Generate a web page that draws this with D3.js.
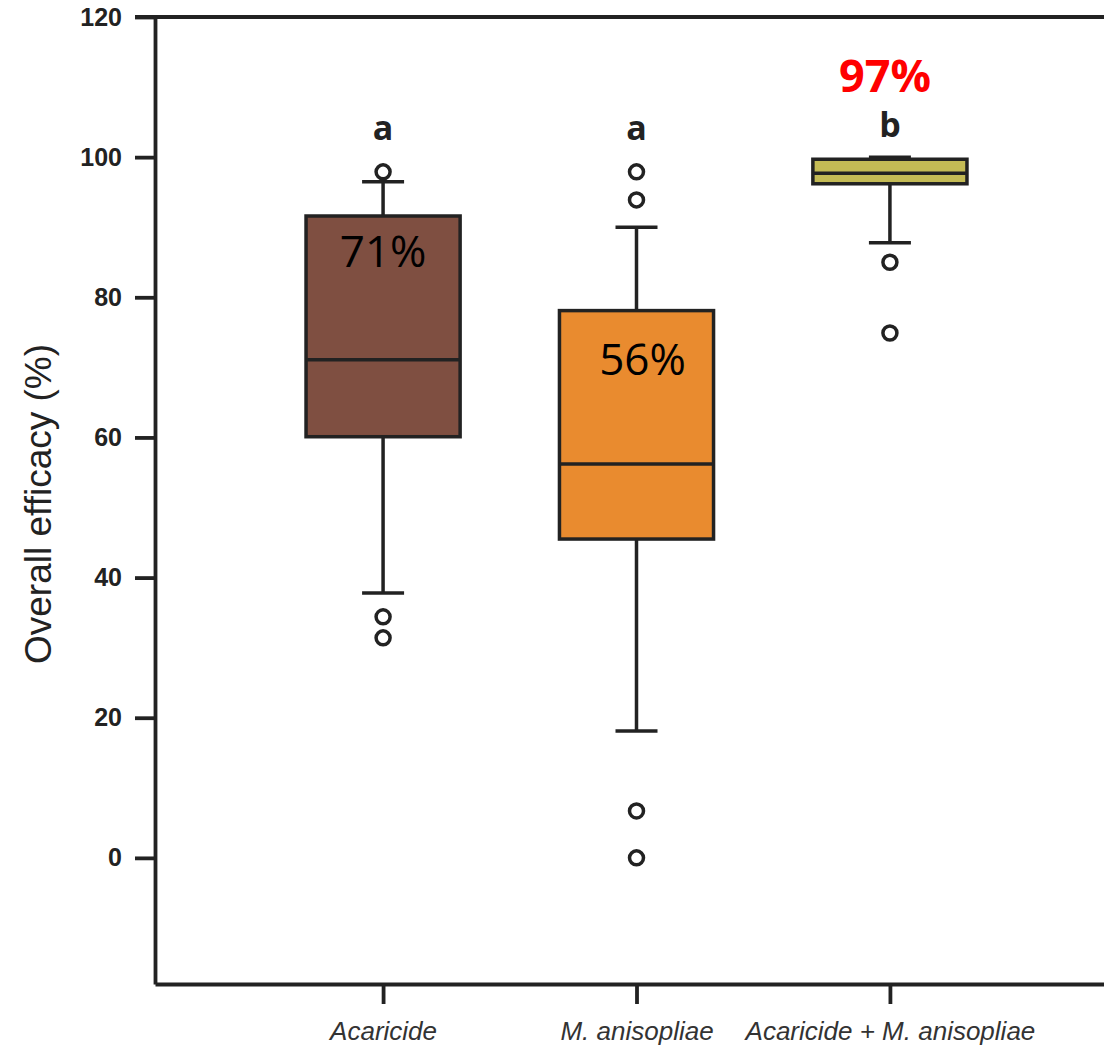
<!DOCTYPE html>
<html>
<head>
<meta charset="utf-8">
<script src="https://cdn.jsdelivr.net/npm/d3@7"></script>
<style>
  html, body { margin: 0; padding: 0; background: #ffffff; }
  svg { display: block; }
</style>
</head>
<body>
<div id="chart"></div>
<script>
// ---- data ----
const categories = ["Acaricide", "M. anisopliae", "Acaricide + M. anisopliae"];
const q1Values = [60.1, 45.5, 96.2];
const medianValues = [71.1, 56.2, 97.7];
const q3Values = [91.6, 78.1, 99.7];
const whiskerLow = [37.8, 18.1, 87.8];
const whiskerHigh = [96.5, 90.0, 100.0];
const outlierValues = [[97.9, 34.4, 31.4], [97.9, 93.9, 6.7, 0.0], [85.0, 74.9]];
const groupLetters = ["a", "a", "b"];
const medianLabels = ["71%", "56%", "97%"];
const yTicks = [0, 20, 40, 60, 80, 100, 120];
const boxColors = ["#7f4f41", "#e98b2f", "#c4bb55"];

// ---- layout ----
const W = 1104, H = 1048;
const ink = "#222222";

const svg = d3.select("#chart").append("svg")
  .attr("width", W).attr("height", H);

const y = d3.scaleLinear().domain([-18, 120]).range([984, 17]);
const x = d3.scalePoint().domain(categories).range([155, 1118]).padding(0.9);
const boxW = x.step() * 0.608;
const capW = 42;

// top frame line (extends the 120 tick)
svg.append("line")
  .attr("x1", 135).attr("x2", W + 20)
  .attr("y1", y(120)).attr("y2", y(120))
  .attr("stroke", ink).attr("stroke-width", 3.8);

// left axis
const yAxis = svg.append("g")
  .attr("transform", `translate(${x.range()[0]},0)`)
  .call(d3.axisLeft(y).tickValues(yTicks).tickSize(20).tickSizeOuter(0).tickPadding(13));
yAxis.select(".domain").attr("stroke", ink).attr("stroke-width", 3.8);
yAxis.selectAll(".tick line").attr("stroke", ink).attr("stroke-width", 3.8);
yAxis.selectAll(".tick text")
  .attr("fill", ink)
  .style("font-family", "'Liberation Sans', Arial, sans-serif")
  .style("font-weight", "bold")
  .style("font-size", "25px");

// bottom axis
const xAxis = svg.append("g")
  .attr("transform", `translate(0,${y(-18)})`)
  .call(d3.axisBottom(x).tickSize(20).tickSizeOuter(0).tickPadding(18));
xAxis.select(".domain").attr("stroke", ink).attr("stroke-width", 3.8);
xAxis.selectAll(".tick line").attr("stroke", ink).attr("stroke-width", 3.8);
xAxis.selectAll(".tick text")
  .attr("fill", "#333333")
  .style("font-family", "'Liberation Sans', Arial, sans-serif")
  .style("font-style", "italic")
  .style("font-size", "26px");

// y axis title
svg.append("text")
  .attr("transform", `translate(51,${504}) rotate(-90)`)
  .attr("text-anchor", "middle")
  .attr("fill", ink)
  .style("font-family", "'Liberation Sans', Arial, sans-serif")
  .style("font-size", "37px")
  .text("Overall efficacy (%)");

// ---- boxes ----
const groups = svg.append("g").selectAll("g")
  .data(categories)
  .join("g")
  .attr("transform", d => `translate(${x(d)},0)`);

// whiskers (vertical)
groups.append("line")
  .attr("x1", 0).attr("x2", 0)
  .attr("y1", (d, i) => y(whiskerHigh[i]))
  .attr("y2", (d, i) => y(q3Values[i]))
  .attr("stroke", ink).attr("stroke-width", 3.5);
groups.append("line")
  .attr("x1", 0).attr("x2", 0)
  .attr("y1", (d, i) => y(q1Values[i]))
  .attr("y2", (d, i) => y(whiskerLow[i]))
  .attr("stroke", ink).attr("stroke-width", 3.5);

// caps
groups.append("line")
  .attr("x1", -capW / 2).attr("x2", capW / 2)
  .attr("y1", (d, i) => y(whiskerHigh[i]))
  .attr("y2", (d, i) => y(whiskerHigh[i]))
  .attr("stroke", ink).attr("stroke-width", 3.5);
groups.append("line")
  .attr("x1", -capW / 2).attr("x2", capW / 2)
  .attr("y1", (d, i) => y(whiskerLow[i]))
  .attr("y2", (d, i) => y(whiskerLow[i]))
  .attr("stroke", ink).attr("stroke-width", 3.5);

// box
groups.append("rect")
  .attr("x", -boxW / 2)
  .attr("width", boxW)
  .attr("y", (d, i) => y(q3Values[i]))
  .attr("height", (d, i) => y(q1Values[i]) - y(q3Values[i]))
  .attr("fill", (d, i) => boxColors[i])
  .attr("stroke", ink).attr("stroke-width", 3.5);

// median
groups.append("line")
  .attr("x1", -boxW / 2).attr("x2", boxW / 2)
  .attr("y1", (d, i) => y(medianValues[i]))
  .attr("y2", (d, i) => y(medianValues[i]))
  .attr("stroke", ink).attr("stroke-width", 3.5);

// outliers
groups.each(function (d, i) {
  d3.select(this).selectAll("circle")
    .data(outlierValues[i])
    .join("circle")
    .attr("cx", 0)
    .attr("cy", v => y(v))
    .attr("r", 7)
    .attr("fill", "#ffffff")
    .attr("stroke", ink)
    .attr("stroke-width", 3.5);
});

// group letters
groups.append("text")
  .attr("x", 0)
  .attr("y", (d, i) => i === 2 ? y(102.9) : y(102.5))
  .attr("text-anchor", "middle")
  .attr("fill", ink)
  .style("font-family", "'Open Sans', sans-serif")
  .style("font-weight", "bold")
  .style("font-size", "34px")
  .text((d, i) => groupLetters[i]);

// median percentage labels
groups.append("text")
  .attr("x", (d, i) => i === 1 ? 6 : (i === 2 ? -5 : 0))
  .attr("y", (d, i) => i === 0 ? y(q3Values[i]) + 51 : (i === 1 ? y(q3Values[i]) + 64 : 92))
  .attr("text-anchor", "middle")
  .attr("fill", (d, i) => i === 2 ? "#ff0000" : "#000000")
  .style("font-family", "'Open Sans', sans-serif")
  .style("font-weight", (d, i) => i === 2 ? "bold" : "normal")
  .style("font-size", (d, i) => i === 2 ? "45px" : "44px")
  .text((d, i) => medianLabels[i]);
</script>
</body>
</html>
